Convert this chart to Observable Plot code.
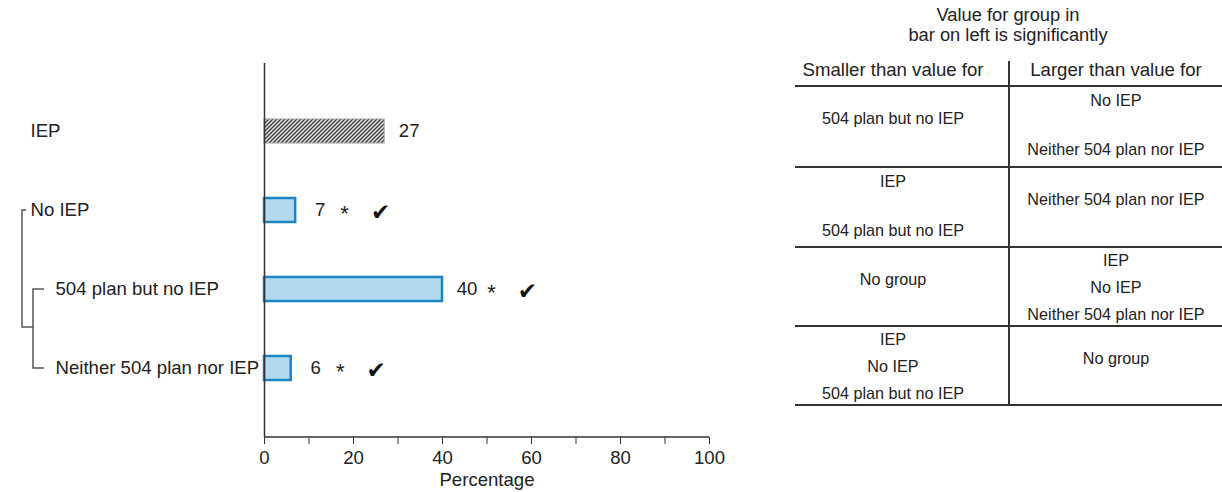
<!DOCTYPE html>
<html>
<head>
<meta charset="utf-8">
<script src="https://cdn.jsdelivr.net/npm/d3@7"></script>
<script src="https://cdn.jsdelivr.net/npm/@observablehq/plot@0.6"></script>
<style>
  body { margin: 0; background: #fff; font-family: "Liberation Sans", Arial, sans-serif; color: #222; }
  #wrap { position: relative; width: 1222px; height: 492px; overflow: hidden; background: #fff; }
  #chart { position: absolute; left: 0; top: 0; }
  .t { position: absolute; white-space: nowrap; line-height: 1; transform: translate(-50%, -50%); color: #222; }
  .hline { position: absolute; height: 2px; background: #333; }
  .vline { position: absolute; width: 2px; background: #333; }
</style>
</head>
<body>
<div id="wrap">
  <div id="chart"></div>
  <div id="table"></div>
</div>
<script>
// ---------- data ----------
const groups = ["IEP", "No IEP", "504 plan but no IEP", "Neither 504 plan nor IEP"];
const values = [27, 7, 40, 6];
const indent = [0, 0, 1, 1];
const significant = [false, true, true, true];
const xTicks = [0, 10, 20, 30, 40, 50, 60, 70, 80, 90, 100];
const xTickLabels = ["0", "", "20", "", "40", "", "60", "", "80", "", "100"];
const xLabel = "Percentage";

const tableTitle = ["Value for group in", "bar on left is significantly"];
const tableHeaders = ["Smaller than value for", "Larger than value for"];
const smallerThan = [
  ["504 plan but no IEP"],
  ["IEP", "504 plan but no IEP"],
  ["No group"],
  ["IEP", "No IEP", "504 plan but no IEP"]
];
const largerThan = [
  ["No IEP", "Neither 504 plan nor IEP"],
  ["Neither 504 plan nor IEP"],
  ["IEP", "No IEP", "Neither 504 plan nor IEP"],
  ["No group"]
];

const data = groups.map((g, i) => ({group: g, value: values[i], indent: indent[i], sig: significant[i]}));

// ---------- chart ----------
const FONT = "Liberation Sans, Arial, sans-serif";
const FS = 18.6;
const chart = Plot.plot({
  width: 780,
  height: 492,
  marginLeft: 264,
  marginRight: 71,
  marginTop: 63,
  marginBottom: 55,
  style: {fontFamily: FONT, fontSize: FS + "px", color: "#222", background: "white", overflow: "visible"},
  x: {domain: [0, 100], axis: null},
  y: {domain: groups, axis: null, paddingInner: 0.696, paddingOuter: 0.715},
  marks: [
    Plot.barX(data.filter(d => d.group === "IEP"), {x: "value", y: "group", fill: "url(#hatch)", stroke: "#a0a0a0", strokeWidth: 1}),
    Plot.barX(data.filter(d => d.group !== "IEP"), {x: "value", y: "group", fill: "#b3d9ee", stroke: "#1d84c6", strokeWidth: 2.5}),
    Plot.ruleX([0], {stroke: "#333", strokeWidth: 1.5}),
    Plot.axisX({ticks: xTicks, tickSize: 7, tickPadding: 6, tickFormat: d => xTickLabels[xTicks.indexOf(d)], label: null, fontSize: FS, stroke: "#333", fill: "#222"}),
    Plot.text([xLabel], {text: d => d, frameAnchor: "bottom", lineAnchor: "top", dy: 35, fontSize: FS, fill: "#222"}),
    Plot.text(data, {x: "value", y: "group", text: d => String(d.value), textAnchor: "middle", dx: 24.5, fontSize: FS, fill: "#222"}),
    Plot.text(data.filter(d => d.sig), {x: "value", y: "group", text: () => "*", textAnchor: "middle", dx: 49, dy: 3, fontSize: 22, fill: "#222"}),
    Plot.text(data.filter(d => d.sig), {x: "value", y: "group", text: () => "\u2714", textAnchor: "middle", dx: 85, dy: 2, fontSize: 23, fontFamily: "DejaVu Sans", fill: "#111"}),
    Plot.text(data.filter(d => d.indent === 0), {y: "group", text: "group", frameAnchor: "left", textAnchor: "start", dx: -234, fontSize: FS, fill: "#222"}),
    Plot.text(data.filter(d => d.indent === 1), {y: "group", text: "group", frameAnchor: "left", textAnchor: "start", dx: -209, fontSize: FS, fill: "#222"})
  ]
});
document.getElementById("chart").appendChild(chart);

const svgEl = chart.tagName.toLowerCase() === "svg" ? chart : chart.querySelector("svg");
const svg = d3.select(svgEl);
// hatch pattern
const defs = svg.insert("defs", ":first-child");
const pat = defs.append("pattern").attr("id", "hatch").attr("patternUnits", "userSpaceOnUse").attr("width", 4).attr("height", 4);
pat.append("rect").attr("width", 4).attr("height", 4).attr("fill", "#e6e6e6");
pat.append("path").attr("d", "M-1,1 l2,-2 M0,4 l4,-4 M3,5 l2,-2").attr("stroke", "#3a3a3a").attr("stroke-width", 1.3);

// bottom axis line and group brackets, using the plot's scales
const xs = chart.scale("x");
const ys = chart.scale("y");
const yBottom = ys.range[1];
svg.append("line")
  .attr("x1", xs.apply(0)).attr("x2", xs.apply(100))
  .attr("y1", yBottom).attr("y2", yBottom)
  .attr("stroke", "#333").attr("stroke-width", 1.5);
const yc = g => ys.apply(g) + ys.bandwidth / 2;
const yMid = (yc(groups[2]) + yc(groups[3])) / 2 - 1.5;
svg.append("path")
  .attr("d", `M26,${yc(groups[1])}H22V${yMid}H33`)
  .attr("fill", "none").attr("stroke", "#555").attr("stroke-width", 1.5);
svg.append("path")
  .attr("d", `M44,${yc(groups[2])}H33V${yc(groups[3])}H44`)
  .attr("fill", "none").attr("stroke", "#555").attr("stroke-width", 1.5);

// ---------- significance table ----------
const table = document.getElementById("table");
function addText(txt, x, y, size) {
  const d = document.createElement("div");
  d.className = "t";
  d.textContent = txt;
  d.style.left = x + "px";
  d.style.top = y + "px";
  d.style.fontSize = size + "px";
  table.appendChild(d);
}
function addH(x1, x2, y) {
  const d = document.createElement("div");
  d.className = "hline";
  d.style.left = x1 + "px"; d.style.width = (x2 - x1) + "px"; d.style.top = (y - 1) + "px";
  table.appendChild(d);
}
function addV(x, y1, y2) {
  const d = document.createElement("div");
  d.className = "vline";
  d.style.left = (x - 1) + "px"; d.style.top = y1 + "px"; d.style.height = (y2 - y1) + "px";
  table.appendChild(d);
}
const tLeft = 795, tRight = 1222, tDiv = 1009;
const colCenters = [893, 1116];
const rowLines = [86, 167, 247, 326, 405];
const slotOffsets = {1: [31.5], 2: [13.5, 63], 3: [12.5, 39.5, 67]};

addText(tableTitle[0], 1008, 15, 18.3);
addText(tableTitle[1], 1008, 35, 18.3);
addText(tableHeaders[0], colCenters[0], 70, 18.6);
addText(tableHeaders[1], colCenters[1], 70, 18.6);
rowLines.forEach(y => addH(tLeft, tRight, y));
addV(tDiv, 61, rowLines[rowLines.length - 1]);
[smallerThan, largerThan].forEach((col, c) => {
  col.forEach((items, r) => {
    const offs = slotOffsets[items.length];
    items.forEach((txt, k) => addText(txt, colCenters[c], rowLines[r] + offs[k], 16.2));
  });
});
</script>
</body>
</html>
